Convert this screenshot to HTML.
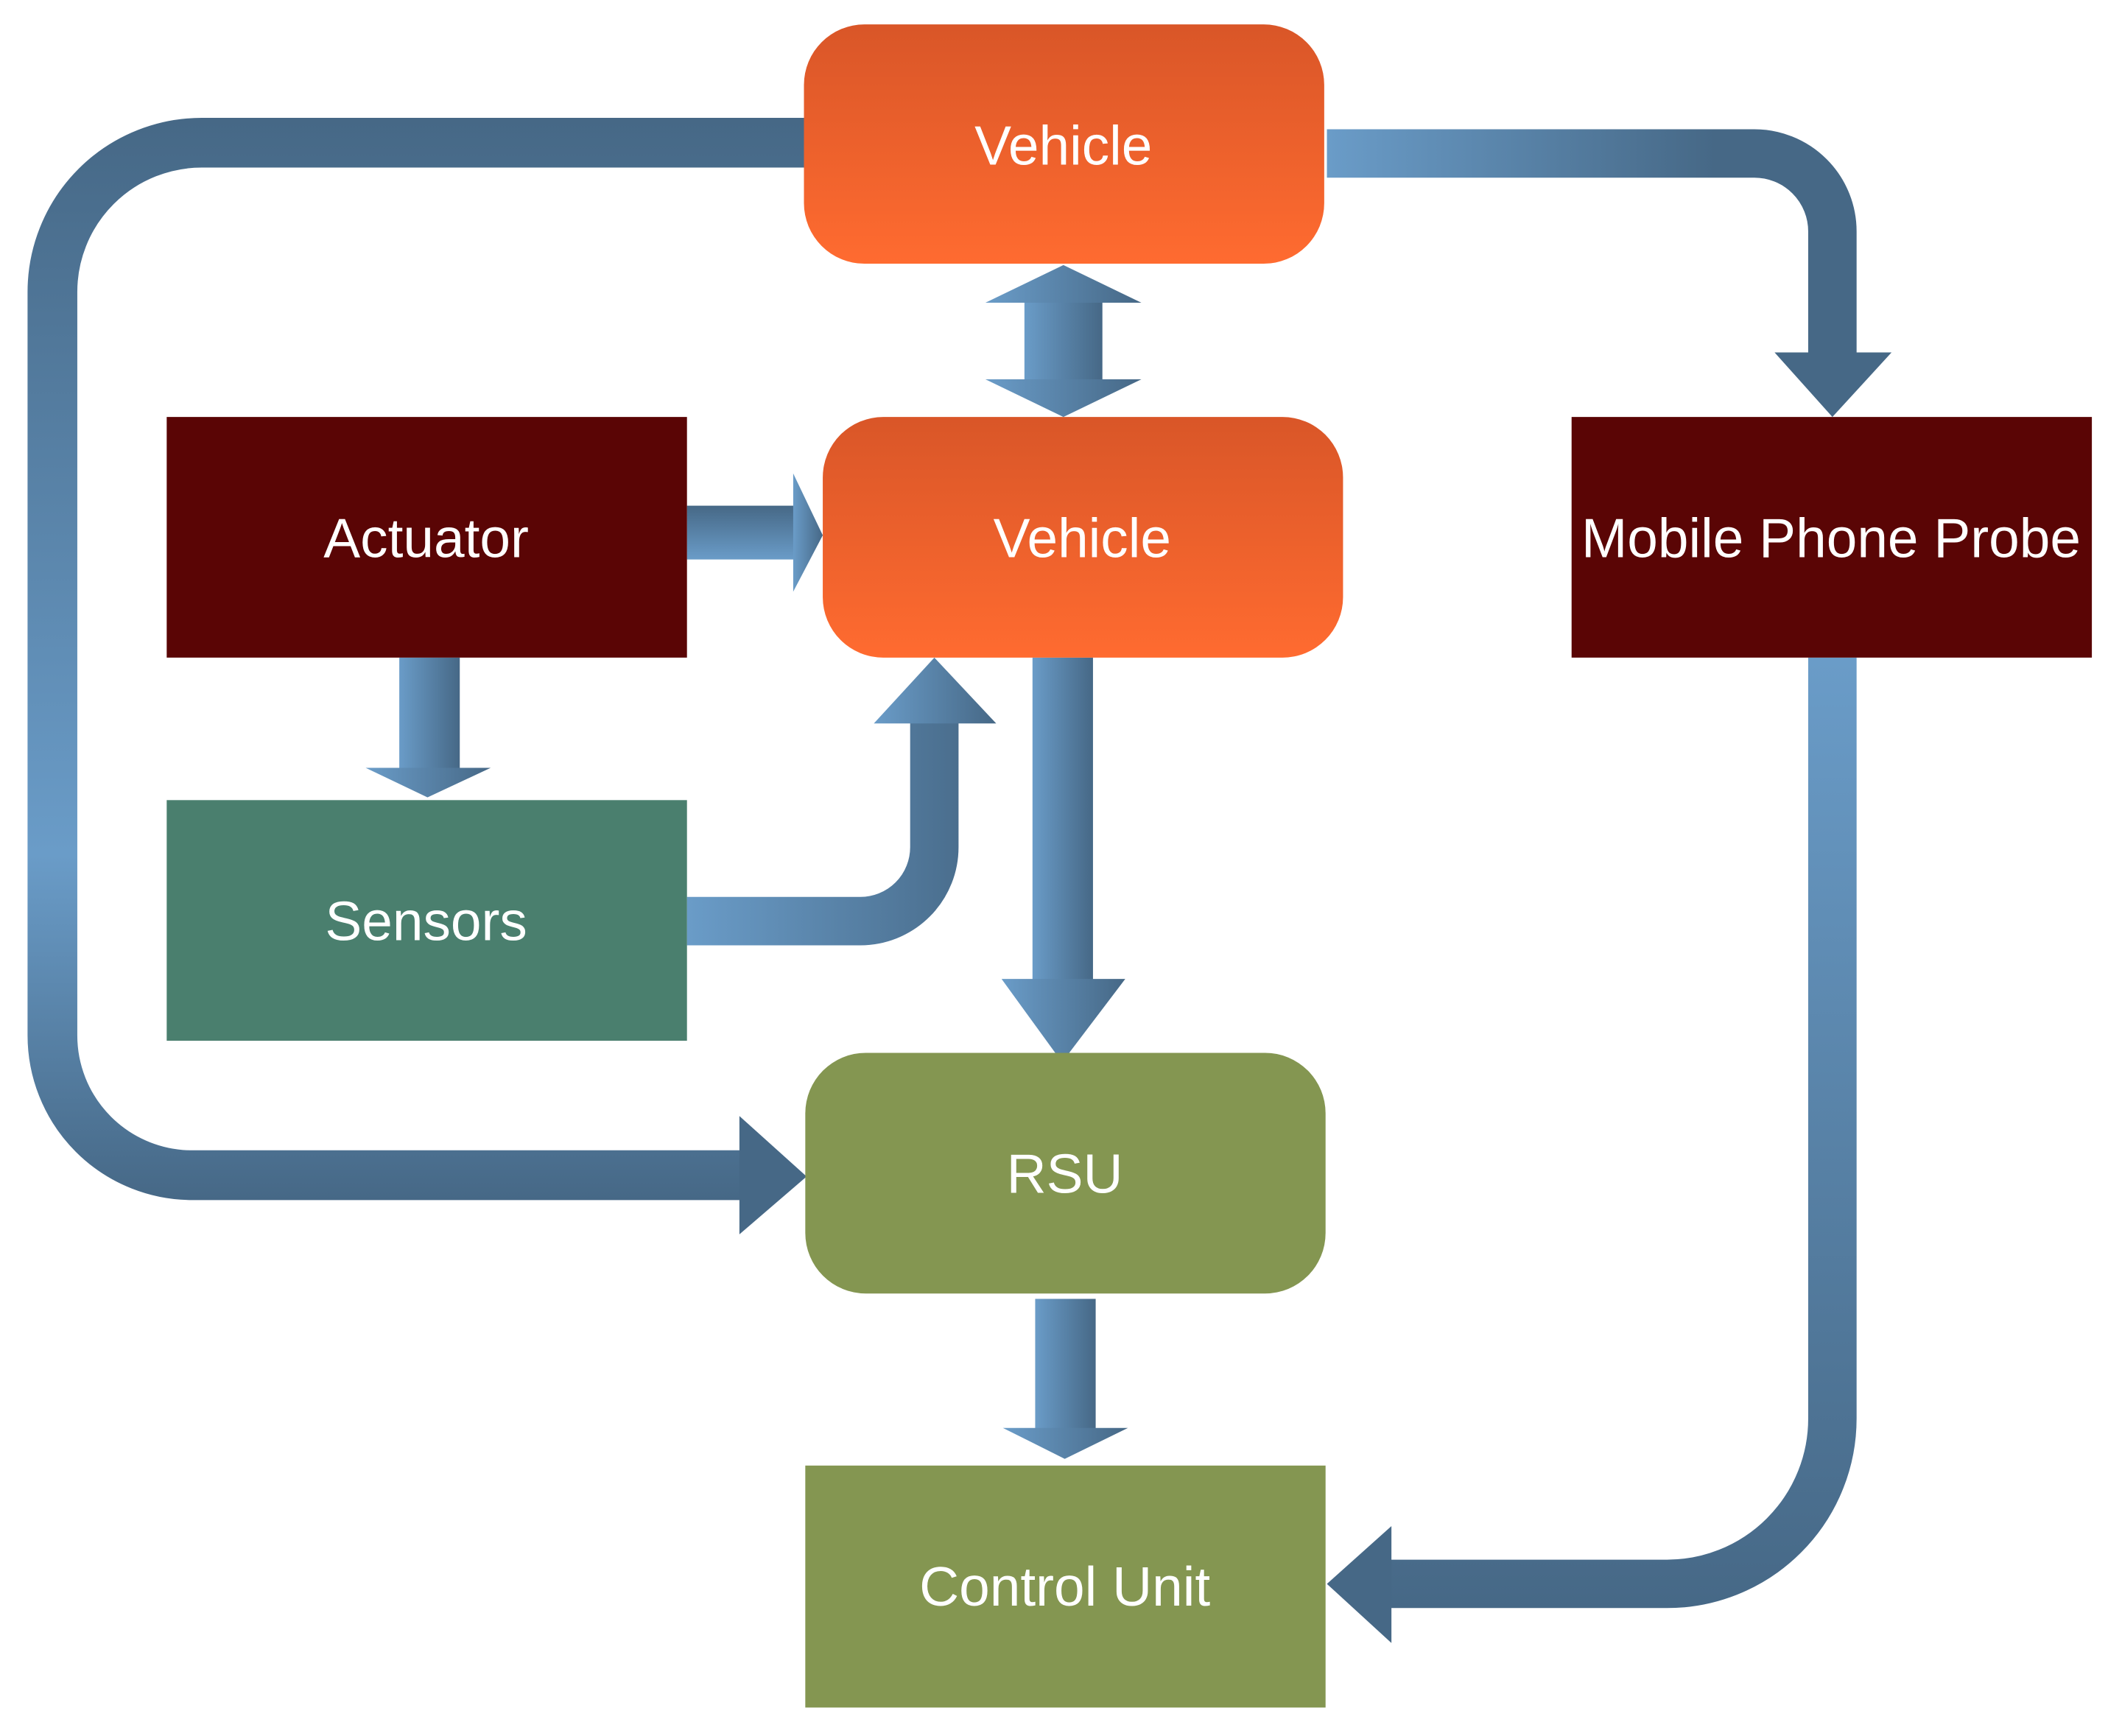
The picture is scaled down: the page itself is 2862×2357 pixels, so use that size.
<!DOCTYPE html>
<html><head><meta charset="utf-8"><style>
html,body{margin:0;padding:0;background:#fff;}
svg{display:block;}
text{font-family:"Liberation Sans",sans-serif;font-size:41px;fill:#fff;text-anchor:middle;dominant-baseline:central;}
</style></head><body>
<svg width="2862" height="2357" viewBox="0 0 1568 1291" xmlns="http://www.w3.org/2000/svg">
<defs>
<linearGradient id="org" x1="0" y1="0" x2="0" y2="1">
<stop offset="0" stop-color="#d95628"/><stop offset="1" stop-color="#ff6b30"/></linearGradient>
<linearGradient id="loopL" gradientUnits="userSpaceOnUse" x1="0" y1="88" x2="0" y2="893">
<stop offset="0" stop-color="#466886"/><stop offset="0.68" stop-color="#6a9cc8"/><stop offset="1" stop-color="#466886"/></linearGradient>
<linearGradient id="loopR" gradientUnits="userSpaceOnUse" x1="987" y1="0" x2="1400" y2="0">
<stop offset="0" stop-color="#6a9cc8"/><stop offset="0.7" stop-color="#466886"/></linearGradient>
<linearGradient id="loopM" gradientUnits="userSpaceOnUse" x1="0" y1="489" x2="0" y2="1200">
<stop offset="0" stop-color="#6a9cc8"/><stop offset="1" stop-color="#466886"/></linearGradient>
<linearGradient id="loopS" gradientUnits="userSpaceOnUse" x1="511" y1="0" x2="741" y2="0">
<stop offset="0" stop-color="#6a9cc8"/><stop offset="1" stop-color="#466886"/></linearGradient>
<linearGradient id="hz" x1="0" y1="0" x2="1" y2="0">
<stop offset="0" stop-color="#6a9cc8"/><stop offset="1" stop-color="#466886"/></linearGradient>
<linearGradient id="vt" x1="0" y1="0" x2="0" y2="1">
<stop offset="0" stop-color="#466886"/><stop offset="1" stop-color="#6a9cc8"/></linearGradient>
</defs>

<path d="M600,106 H150 A111,111 0 0 0 39,217 V770 A104,104 0 0 0 143,874 H553" fill="none" stroke="url(#loopL)" stroke-width="37"/>
<polygon points="550,830 600,875 550,918" fill="#466886"/>

<path d="M987,114 H1305 A58,58 0 0 1 1363,172 V264" fill="none" stroke="url(#loopR)" stroke-width="36"/>
<polygon points="1320,262 1407,262 1363,310" fill="#466886"/>

<path d="M1363,489 V1055 A123,123 0 0 1 1240,1178 H1033" fill="none" stroke="url(#loopM)" stroke-width="36"/>
<polygon points="1035,1135 987,1178 1035,1222" fill="#466886"/>

<path d="M511,685 H640 A55,55 0 0 0 695,630 V536" fill="none" stroke="url(#loopS)" stroke-width="36"/>
<polygon points="650,538 695,489 741,538" fill="url(#hz)"/>

<rect x="762" y="224" width="58" height="59" fill="url(#hz)"/>
<polygon points="733,225 791,197 849,225" fill="url(#hz)"/>
<polygon points="733,282 791,310 849,282" fill="url(#hz)"/>

<rect x="511" y="376" width="80" height="40" fill="url(#vt)"/>
<polygon points="590,352 612,398 590,440" fill="url(#hz)"/>

<rect x="297" y="489" width="45" height="83" fill="url(#hz)"/>
<polygon points="272,571 318,593 365,571" fill="url(#hz)"/>

<rect x="768" y="489" width="45" height="240" fill="url(#hz)"/>
<polygon points="745,728 790,790 837,728" fill="url(#hz)"/>

<rect x="770" y="966" width="45" height="97" fill="url(#hz)"/>
<polygon points="746,1062 792,1085 839,1062" fill="url(#hz)"/>

<rect x="598" y="18" width="387" height="178" rx="45" fill="url(#org)"/>
<text x="791" y="108">Vehicle</text>
<rect x="612" y="310" width="387" height="179" rx="45" fill="url(#org)"/>
<text x="805" y="400">Vehicle</text>
<rect x="124" y="310" width="387" height="179" fill="#5a0505"/>
<text x="317" y="400">Actuator</text>
<rect x="124" y="595" width="387" height="179" fill="#4a7f6e"/>
<text x="317" y="685">Sensors</text>
<rect x="1169" y="310" width="387" height="179" fill="#5a0505"/>
<text x="1362" y="400">Mobile Phone Probe</text>
<rect x="599" y="783" width="387" height="179" rx="45" fill="#849651"/>
<text x="792" y="873">RSU</text>
<rect x="599" y="1090" width="387" height="180" fill="#849651"/>
<text x="792" y="1180">Control Unit</text>
</svg>
</body></html>
